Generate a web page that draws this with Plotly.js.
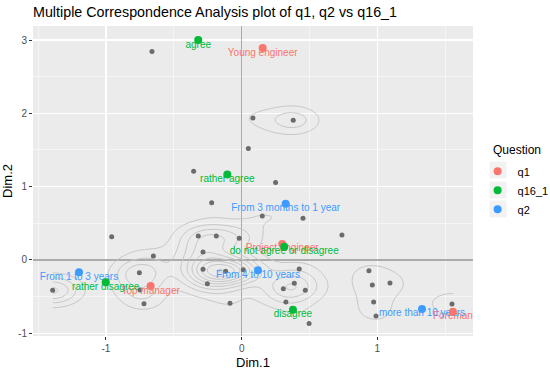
<!DOCTYPE html>
<html>
<head>
<meta charset="utf-8">
<script src="https://cdn.plot.ly/plotly-3.0.1.min.js"></script>
<style>html,body{margin:0;padding:0;background:#fff;}#chart{width:550px;height:373px;}</style>
</head>
<body>
<div id="chart"></div>
<script>
// ---- Data ----
// Individuals (grey points) and how many individuals overlap at each spot (estimated)
const indX = [-0.661, 0.083, 0.380, 0.049, -0.354, 0.250, -0.221, 0.152, 0.452, 0.739,
  -0.320, -0.187, -0.018, -0.285, -0.285, -0.118, 0.012, 0.424, 0.938, -0.253,
  0.307, 0.388, 0.469, 0.963, -0.086, 0.326, 0.973, -0.958, -0.651, -0.754,
  -1.393, -0.749, -0.720, 1.093, 0.990, 1.550, 0.497];
const indY = [2.842, 1.937, 1.906, 1.519, 1.210, 1.055, 0.782, 0.600, 0.568, 0.341,
  0.327, 0.327, 0.296, 0.109, -0.127, -0.154, -0.132, -0.123, -0.146, -0.323,
  -0.391, -0.318, -0.414, -0.341, -0.591, -0.573, -0.573, 0.318, 0.055, -0.173,
  -0.414, -0.409, -0.596, -0.314, -0.764, -0.600, -0.866];
const indCount = [1, 1, 3, 1, 1, 1, 1, 1, 1, 1,
  2, 2, 2, 3, 4, 6, 3, 1, 1, 2,
  2, 2, 1, 1, 1, 1, 1, 1, 1, 4,
  5, 2, 1, 1, 1, 2, 1];

// Categories
const q1Labels = ['Young engineer', 'Project engineer', 'Top manager', 'Foreman'];
const q1X = [0.155, 0.299, -0.671, 1.557];
const q1Y = [2.890, 0.218, -0.355, -0.705];

const q16Labels = ['agree', 'rather agree', 'do not agree or disagree', 'disagree', 'rather disagree'];
const q16X = [-0.320, -0.106, 0.314, 0.378, -1.002];
const q16Y = [3.000, 1.164, 0.181, -0.679, -0.305];

const q2Labels = ['From 3 months to 1 year', 'From 4 to 10 years', 'From 1 to 3 years', 'more than 10 years'];
const q2X = [0.324, 0.120, -1.199, 1.329];
const q2Y = [0.768, -0.141, -0.168, -0.668];

const groupNames = ['q1', 'q16_1', 'q2'];
const legendTitle = 'Question';
const xTicks = [-1, 0, 1];
const yTicks = [-1, 0, 1, 2, 3];

// ---- 2D kernel density of the individuals (like geom_density_2d) ----
const allX = [], allY = [];
indX.forEach((v, i) => { for (let k = 0; k < indCount[i]; k++) { allX.push(v); allY.push(indY[i]); } });
const hx = 0.14, hy = 0.14;   // kernel widths (style)
const everyX = indX.concat(q1X, q16X, q2X), everyY = indY.concat(q1Y, q16Y, q2Y);
const xmin = Math.min(...everyX), xmax = Math.max(...everyX);
const ymin = Math.min(...everyY), ymax = Math.max(...everyY);
const N = 120, gx = [], gy = [];
for (let i = 0; i < N; i++) { gx.push(xmin + (xmax - xmin) * i / (N - 1)); gy.push(ymin + (ymax - ymin) * i / (N - 1)); }
const norm = 1 / (2 * Math.PI * hx * hy * allX.length);
const z = [];
let zmax = 0;
for (let j = 0; j < N; j++) {
  const row = [];
  for (let i = 0; i < N; i++) {
    let s = 0;
    for (let k = 0; k < allX.length; k++) {
      const dx = (gx[i] - allX[k]) / hx, dy = (gy[j] - allY[k]) / hy;
      s += Math.exp(-0.5 * (dx * dx + dy * dy));
    }
    s *= norm;
    row.push(s); if (s > zmax) zmax = s;
  }
  z.push(row);
}
const step = 1.2 * norm;

const cols = ['#F8766D', '#00BA38', '#3D9BFF'];
const font = 'Liberation Sans, Arial, Helvetica, sans-serif';

const traces = [];
traces.push({
  type: 'contour', x: gx, y: gy, z: z, showscale: false, hoverinfo: 'skip',
  contours: { coloring: 'lines', start: step, end: zmax, size: step },
  line: { color: '#C6C6C6', width: 1, smoothing: 1 },
  colorscale: [[0, '#C6C6C6'], [1, '#C6C6C6']]
});
traces.push({
  type: 'scatter', mode: 'markers', x: indX, y: indY, showlegend: false, hoverinfo: 'skip',
  marker: { color: '#6B6B6B', size: 5 }
});
const groups = [[q1X, q1Y, q1Labels], [q16X, q16Y, q16Labels], [q2X, q2Y, q2Labels]];
groups.forEach((g, i) => {
  traces.push({
    type: 'scatter', mode: 'text', x: g[0], y: g[1], text: g[2], textposition: 'bottom center',
    textfont: { color: cols[i], size: 10, family: font }, showlegend: false, hoverinfo: 'skip'
  });
});
groups.forEach((g, i) => {
  traces.push({
    type: 'scatter', mode: 'markers', name: groupNames[i], x: g[0], y: g[1],
    marker: { color: cols[i], size: 8 }
  });
});

// legend key backgrounds (ggplot style)
const keyShapes = [170, 190, 209].map(c => ({
  type: 'rect', xref: 'paper', yref: 'paper', layer: 'below',
  x0: (489.5 - 33) / 440, x1: (506.5 - 33) / 440,
  y0: (336 - c - 8.5) / 310, y1: (336 - c + 8.5) / 310,
  fillcolor: '#F2F2F2', line: { width: 0 }
}));

const layout = {
  width: 550, height: 373,
  margin: { l: 33, r: 77, t: 26, b: 37, pad: 0, autoexpand: false },
  paper_bgcolor: '#FFFFFF', plot_bgcolor: '#EBEBEB',
  font: { family: font },
  title: {
    text: 'Multiple Correspondence Analysis plot of q1, q2 vs q16_1',
    x: 0, xref: 'paper', xanchor: 'left', y: 1 - 12 / 373, yref: 'container', yanchor: 'middle',
    font: { size: 14.3, color: '#000000', family: font }
  },
  xaxis: {
    range: [-1.538, 1.705], tickvals: xTicks, ticktext: xTicks.map(String),
    ticks: 'outside', ticklen: 3, tickcolor: '#333333', tickwidth: 1,
    tickfont: { size: 10, color: '#4D4D4D' },
    showgrid: true, gridcolor: '#FFFFFF', gridwidth: 1.1,
    minor: { tickvals: [-1.5, -0.5, 0.5, 1.5], showgrid: true, gridcolor: '#FFFFFF', gridwidth: 0.5, ticks: '' },
    zeroline: true, zerolinecolor: '#ABABAB', zerolinewidth: 1.4,
    showline: false, fixedrange: true, automargin: false,
    title: { text: 'Dim.1', font: { size: 13, color: '#000000' }, standoff: 4 }
  },
  yaxis: {
    range: [-1.037, 3.191], tickvals: yTicks, ticktext: yTicks.map(String),
    ticks: 'outside', ticklen: 3, tickcolor: '#333333', tickwidth: 1,
    tickfont: { size: 10, color: '#4D4D4D' },
    showgrid: true, gridcolor: '#FFFFFF', gridwidth: 1.1,
    minor: { tickvals: [-0.5, 0.5, 1.5, 2.5], showgrid: true, gridcolor: '#FFFFFF', gridwidth: 0.5, ticks: '' },
    zeroline: true, zerolinecolor: '#ABABAB', zerolinewidth: 1.4,
    showline: false, fixedrange: true, automargin: false,
    title: { text: 'Dim.2', font: { size: 13, color: '#000000' }, standoff: 4 }
  },
  legend: {
    x: (477.6 - 33) / 440, xanchor: 'left', y: 0.578, yanchor: 'top',
    font: { size: 11, color: '#000000' }, bgcolor: 'rgba(0,0,0,0)',
    itemwidth: 30, tracegroupgap: 0
  },
  annotations: [{
    text: legendTitle, xref: 'paper', yref: 'paper', showarrow: false,
    x: (491 - 33) / 440, xanchor: 'left', y: (336 - 150) / 310, yanchor: 'middle',
    font: { size: 12, color: '#000000' }
  }],
  shapes: keyShapes,
  showlegend: true
};

Plotly.newPlot('chart', traces, layout, { displayModeBar: false, staticPlot: true });
</script>
</body>
</html>
